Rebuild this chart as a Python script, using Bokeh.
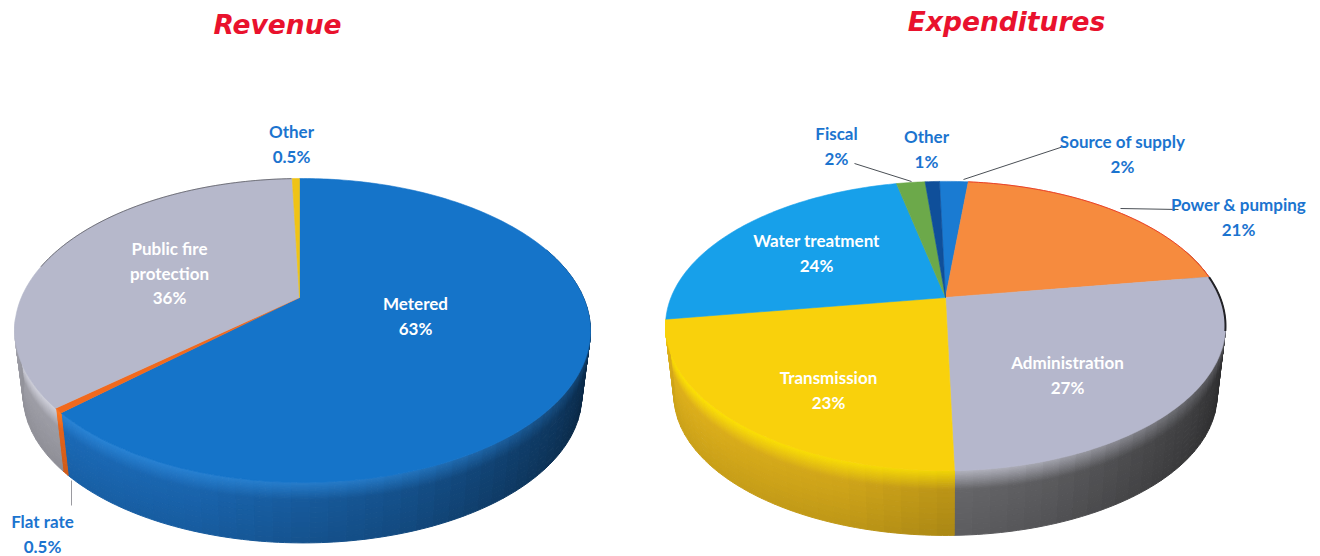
import numpy as np
from bokeh.plotting import figure
from bokeh.models import ColumnDataSource, Range1d
from bokeh.core.properties import value
from bokeh.embed import file_html
from bokeh.resources import INLINE

# Revenue shares, clockwise from twelve o'clock
revenue_names = ["Metered", "Flat rate", "Public fire protection", "Other"]
revenue_values = [63, 0.5, 36, 0.5]
revenue_top = ["#1574c9", "#f2691c", "#b6b8cb", "#efc316"]
revenue_wall = ["#1c70c2", "#f2691c", "#a6a6af", "#efc316"]
revenue_rim = ["#2a86d8", "#ff7a20", "#d4d5e0", "#efc316"]

# Expenditure shares, clockwise from twelve o'clock
spend_names = ["Source of supply", "Power & pumping", "Administration",
               "Transmission", "Water treatment", "Fiscal", "Other"]
spend_values = [2, 21, 27, 23, 24, 2, 1]
spend_top = ["#1a7bd2", "#f68b3e", "#b5b7cc", "#f9d10c", "#17a0ea", "#6ca94a", "#0f4f9a"]
spend_wall = ["#1a7bd2", "#f68b3e", "#808084", "#e9b91c", "#17a0ea", "#6ca94a", "#0f4f9a"]
spend_rim = ["#1a7bd2", "#f68b3e", "#c9cad8", "#ffe600", "#17a0ea", "#6ca94a", "#0f4f9a"]

BLUE = "#1b74cf"
FONT = value("Lato")


def hex_rgb(c):
    return np.array([int(c[i:i + 2], 16) for i in (1, 3, 5)], dtype=float)


def rgb_hex(v):
    return "#%02x%02x%02x" % tuple(int(round(min(255, max(0, x)))) for x in v)


class PieView:
    """Perspective view of a disc: circle points are mapped through a homography."""

    def __init__(self, ax, ay, a, b, c, d, depth, shrink, start):
        self.ax, self.ay, self.a, self.b, self.c, self.d = ax, ay, a, b, c, d
        self.depth, self.shrink, self.start = depth, shrink, start

    def top(self, deg):
        th = np.radians(np.asarray(deg, dtype=float) + self.start)
        x, y = np.sin(th), np.cos(th)
        w = 1 + self.c * y - self.d * x
        return self.ax + self.a * x / w, self.ay - self.b * y / w

    def at(self, deg, t):
        xs, ys = self.top(deg)
        xb = self.ax + (xs - self.ax) * self.shrink
        yb = self.ay + (ys - self.ay) * self.shrink + self.depth
        return xs + (xb - xs) * t, ys + (yb - ys) * t


def draw_pie(p, view, values, top_cols, wall_cols, rim_cols):
    edges = np.concatenate([[0], np.cumsum(values)]) * 3.6
    layers = np.concatenate([np.arange(0, .34, .02), np.linspace(.34, 1, 9)])
    wall = dict(xs=[], ys=[], c=[])
    for i in range(len(values)):
        lo, hi = edges[i], edges[i + 1]
        cuts = np.linspace(lo, hi, max(2, int((hi - lo) / 3) + 1))
        for a0, a1 in zip(cuts[:-1], cuts[1:]):
            mid = np.radians((a0 + a1) / 2 + view.start)
            s, co = np.sin(mid), np.cos(mid)
            # only the front of the rim shows a wall
            if co > 0.35 or (s < 0 and co > -0.15):
                continue
            shade = np.interp(s, [-1, -.3, .3, .8, 1], [1, .93, .74, .5, .36])
            weight = np.interp(s, [-1, .2, .8], [1, .75, .25])
            for t0, t1 in zip(layers[:-1], layers[1:]):
                tm = (t0 + t1) / 2
                base = hex_rgb(wall_cols[i]) * shade * (1 - .12 * tm)
                blend = weight * np.clip(1 - tm / .3, 0, 1)
                col = base + (hex_rgb(rim_cols[i]) - base) * blend
                arc = np.linspace(a0, a1, 4)
                x0, y0 = view.at(arc, t0)
                x1, y1 = view.at(arc[::-1], t1)
                wall["xs"].append(np.concatenate([x0, x1]))
                wall["ys"].append(np.concatenate([y0, y1]))
                wall["c"].append(rgb_hex(col))
    p.patches("xs", "ys", source=ColumnDataSource(wall), fill_color="c", line_color="c", line_width=1)

    face = dict(xs=[], ys=[], c=[])
    for i in range(len(values)):
        arc = np.linspace(edges[i], edges[i + 1], max(2, int(edges[i + 1] - edges[i]) + 2))
        x, y = view.top(arc)
        face["xs"].append(np.concatenate([[view.ax], x]))
        face["ys"].append(np.concatenate([[view.ay], y]))
        face["c"].append(top_cols[i])
    p.patches("xs", "ys", source=ColumnDataSource(face), fill_color="c", line_color="c", line_width=.6)
    return edges


def rim_line(p, view, a0, a1, color, width, alpha=1.0):
    x, y = view.top(np.linspace(a0, a1, 60))
    p.line(x, y, line_color=color, line_width=width, line_alpha=alpha)


def label(p, x, y, lines, color, size):
    ys = [y + 24.5 * k for k in range(len(lines))]
    p.text(x=[x] * len(lines), y=ys, text=lines, text_color=color, text_font=FONT,
           text_font_size=size, text_font_style="bold", text_align="center",
           text_baseline="middle")


p = figure(width=1320, height=556, output_backend="svg", toolbar_location=None,
           x_range=Range1d(0, 1320), y_range=Range1d(556, 0), min_border=0)
p.axis.visible = False
p.grid.visible = False
p.outline_line_color = None

rev = PieView(299, 297, 281, 144.8, .217, .0104, 66, .97, 0)
exp = PieView(945, 297, 274.5, 139, .197, 0, 70, .97, -1.5)

draw_pie(p, rev, revenue_values, revenue_top, revenue_wall, revenue_rim)
rim_line(p, rev, 283, 358, "#55565c", 1, .75)

e = draw_pie(p, exp, spend_values, spend_top, spend_wall, spend_rim)
rim_line(p, exp, e[1], e[2], "#e8402a", 1)
rim_line(p, exp, e[2], e[2] + 22, "#222226", 2)

# leader lines from outside labels to their slices
leaders = [([71, 71], [480, 505], "#9a9aa0"),
           ([854, 911], [163, 181], "#4a4f55"),
           ([963, 1063], [179, 146], "#4a4f55"),
           ([1120, 1178], [208, 209], "#4a4f55")]
for lx, ly, lc in leaders:
    p.line(lx, ly, line_color=lc, line_width=1)

p.text(x=[277], y=[24], text=["Revenue"], text_color="#e9122d", text_font=value("DejaVu Sans"),
       text_font_size="26.5px", text_font_style="bold italic", text_align="center", text_baseline="middle")
p.text(x=[1006], y=[21], text=["Expenditures"], text_color="#e9122d", text_font=value("DejaVu Sans"),
       text_font_size="26.5px", text_font_style="bold italic", text_align="center", text_baseline="middle")

label(p, 291, 131, ["Other", "0.5%"], BLUE, "17px")
label(p, 42, 521, ["Flat rate", "0.5%"], BLUE, "17px")
label(p, 169, 248, ["Public fire", "protection", "36%"], "#ffffff", "17px")
label(p, 415, 303, ["Metered", "63%"], "#ffffff", "17px")
label(p, 836, 133, ["Fiscal", "2%"], BLUE, "17px")
label(p, 926, 136, ["Other", "1%"], BLUE, "17px")
label(p, 1122, 141, ["Source of supply", "2%"], BLUE, "17px")
label(p, 1238, 204, ["Power & pumping", "21%"], BLUE, "17px")
label(p, 816, 240, ["Water treatment", "24%"], "#ffffff", "17px")
label(p, 828, 377, ["Transmission", "23%"], "#ffffff", "17px")
label(p, 1067, 362, ["Administration", "27%"], "#ffffff", "17px")

open("out.html", "w").write(file_html(p, INLINE))
